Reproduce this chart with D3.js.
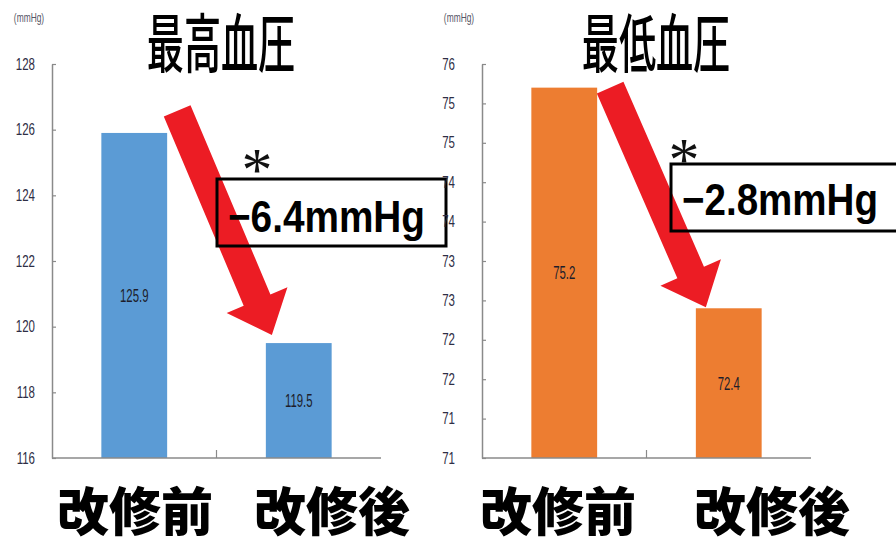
<!DOCTYPE html>
<html>
<head>
<meta charset="utf-8">
<script src="https://cdn.jsdelivr.net/npm/d3@7"></script>
<style>
  html, body { margin: 0; padding: 0; background: #fff; }
  svg { display: block; }
</style>
</head>
<body>
<svg id="chart" width="896" height="537"></svg>
<script>
// Blood pressure before / after renovation
const categories = ["改修前", "改修後"];
const systolic = [125.9, 119.5];
const diastolic = [75.2, 72.4];
const panelTitles = ["最高血圧", "最低血圧"];
const unitText = "(mmHg)";
const systolicTicks = [116, 118, 120, 122, 124, 126, 128];
const systolicTickLabels = ["116", "118", "120", "122", "124", "126", "128"];
const diastolicTicks = [70.5, 71, 71.5, 72, 72.5, 73, 73.5, 74, 74.5, 75, 75.5];
const diastolicTickLabels = ["71", "71", "72", "72", "73", "73", "74", "74", "75", "75", "76"];

// Layout of the two side-by-side panels
const panels = [
  {
    title: panelTitles[0], values: systolic, ticks: systolicTicks, tickLabels: systolicTickLabels,
    color: "#5b9bd5", x0: 52, x1: 381, top: 64, bottom: 458, tickPad: 17,
    unitX: 29, titleX: 221, catX: [135, 332],
    box: { x: 217, y: 179, w: 229, h: 67 }, noteX: 228, noteY: 232, noteW: 197,
    starX: 257, starY: 190,
    tailOff: [10, -22], tipOff: [6, -8]
  },
  {
    title: panelTitles[1], values: diastolic, ticks: diastolicTicks, tickLabels: diastolicTickLabels,
    color: "#ed7d31", x0: 482, x1: 811, top: 64, bottom: 458, tickPad: 27,
    unitX: 459, titleX: 656, catX: [558, 772],
    box: { x: 671, y: 164, w: 240, h: 67 }, noteX: 682, noteY: 215, noteW: 196,
    starX: 684, starY: 180,
    tailOff: [13, 0], tipOff: [10, -1]
  }
];

const svg = d3.select("#chart");
const axisColor = "#8a8a8a";
const arrowColor = "#ec1c24";

function arrowPath(t, h, shaftW, headL, headW) {
  const dx = h[0] - t[0], dy = h[1] - t[1], L = Math.hypot(dx, dy);
  const ux = dx / L, uy = dy / L, px = -uy, py = ux;
  const bx = h[0] - ux * headL, by = h[1] - uy * headL;
  const pts = [
    [t[0] + px * shaftW / 2, t[1] + py * shaftW / 2],
    [bx + px * shaftW / 2, by + py * shaftW / 2],
    [bx + px * headW, by + py * headW],
    h,
    [bx - px * headW, by - py * headW],
    [bx - px * shaftW / 2, by - py * shaftW / 2],
    [t[0] - px * shaftW / 2, t[1] - py * shaftW / 2]
  ];
  return d3.line()(pts) + "Z";
}

panels.forEach(p => {
  const g = svg.append("g");
  const y = d3.scaleLinear()
    .domain([p.ticks[0], p.ticks[p.ticks.length - 1]])
    .range([p.bottom, p.top]);
  const x = d3.scaleBand()
    .domain(categories)
    .range([p.x0, p.x1])
    .paddingInner(0.6)
    .paddingOuter(0.3);
  const bw = x.bandwidth();

  // bars
  g.selectAll("rect.bar")
    .data(p.values)
    .join("rect")
    .attr("class", "bar")
    .attr("x", (d, i) => x(categories[i]))
    .attr("y", d => y(d))
    .attr("width", bw)
    .attr("height", d => p.bottom - y(d))
    .attr("fill", p.color);

  // value labels inside bars
  g.selectAll("text.val")
    .data(p.values)
    .join("text")
    .attr("class", "val")
    .attr("transform", (d, i) =>
      `translate(${x(categories[i]) + bw / 2},${(y(d) + p.bottom) / 2}) scale(0.6,1)`)
    .attr("text-anchor", "middle")
    .attr("dominant-baseline", "central")
    .attr("font-family", "Liberation Sans, Arial, sans-serif")
    .attr("font-size", 19)
    .attr("fill", "#1d1d2b")
    .text(d => d.toFixed(1));

  // y axis, ticks pointing inward
  const sx = 0.72;
  const yAxis = d3.axisLeft(y)
    .tickValues(p.ticks)
    .tickFormat((d, i) => p.tickLabels[i])
    .tickSizeInner(-4)
    .tickSizeOuter(0)
    .tickPadding(p.tickPad);
  const ya = g.append("g").attr("transform", `translate(${p.x0},0)`).call(yAxis);
  ya.select(".domain").attr("stroke", axisColor).attr("stroke-width", 1.5);
  ya.selectAll(".tick line").attr("stroke", axisColor).attr("stroke-width", 1.2);
  ya.selectAll(".tick text")
    .attr("x", -p.tickPad / sx)
    .attr("transform", `scale(${sx},1)`)
    .attr("font-family", "Liberation Sans, Arial, sans-serif")
    .attr("font-size", 16)
    .attr("fill", "#2e2e45");

  // x axis baseline with a divider tick between categories
  g.append("line")
    .attr("x1", p.x0).attr("x2", p.x1)
    .attr("y1", p.bottom).attr("y2", p.bottom)
    .attr("stroke", axisColor).attr("stroke-width", 1.5);
  const mid = (x(categories[0]) + bw + x(categories[1])) / 2;
  g.append("line")
    .attr("x1", mid).attr("x2", mid)
    .attr("y1", p.bottom).attr("y2", p.bottom - 8)
    .attr("stroke", axisColor).attr("stroke-width", 1.2);

  // unit label
  g.append("text")
    .attr("transform", `translate(${p.unitX},22) scale(0.7,1)`)
    .attr("text-anchor", "middle")
    .attr("font-family", "Liberation Sans, Arial, sans-serif")
    .attr("font-size", 12)
    .attr("fill", "#555566")
    .text(unitText);

  // red arrow from the first bar down to the second
  const tail = [x(categories[0]) + bw + p.tailOff[0], y(p.values[0]) + p.tailOff[1]];
  const tip = [x(categories[1]) + p.tipOff[0], y(p.values[1]) + p.tipOff[1]];
  g.append("path")
    .attr("d", arrowPath(tail, tip, 29, 38, 33))
    .attr("fill", arrowColor);

  // difference box
  g.append("rect")
    .attr("x", p.box.x).attr("y", p.box.y)
    .attr("width", p.box.w).attr("height", p.box.h)
    .attr("fill", "none")
    .attr("stroke", "#000")
    .attr("stroke-width", 3);
  const diff = (p.values[1] - p.values[0]).toFixed(1).replace("-", "−");
  g.append("text")
    .attr("x", p.noteX).attr("y", p.noteY)
    .attr("textLength", p.noteW)
    .attr("lengthAdjust", "spacingAndGlyphs")
    .attr("font-family", "Liberation Sans, Arial, sans-serif")
    .attr("font-weight", "bold")
    .attr("font-size", 44)
    .attr("fill", "#000")
    .text(diff + "mmHg");

  // significance mark
  g.append("text")
    .attr("x", p.starX).attr("y", p.starY)
    .attr("text-anchor", "middle")
    .attr("font-family", "Liberation Serif, serif")
    .attr("font-size", 62)
    .attr("fill", "#111")
    .text("*");

  // panel title
  g.append("text")
    .attr("transform", `translate(${p.titleX},67) scale(0.58,1)`)
    .attr("text-anchor", "middle")
    .attr("font-family", "Noto Sans CJK JP, sans-serif")
    .attr("font-weight", 500)
    .attr("font-size", 64)
    .attr("fill", "#000")
    .text(p.title);

  // category labels
  g.selectAll("text.cat")
    .data(categories)
    .join("text")
    .attr("class", "cat")
    .attr("x", (d, i) => p.catX[i])
    .attr("y", 531)
    .attr("text-anchor", "middle")
    .attr("font-family", "Noto Sans CJK JP, sans-serif")
    .attr("font-weight", 900)
    .attr("font-size", 52)
    .attr("fill", "#000")
    .text(d => d);
});
</script>
</body>
</html>
